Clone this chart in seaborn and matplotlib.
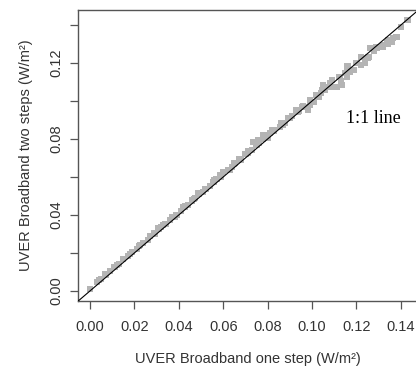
import numpy as np
import pandas as pd
import matplotlib
matplotlib.use('Agg')
import matplotlib.pyplot as plt
import seaborn as sns

# UVER broadband: one-step vs two-step estimates (W/m2)
one_step = [0.000, 0.003, 0.005, 0.007, 0.009, 0.011, 0.013, 0.015, 0.017, 0.019,
            0.021, 0.022, 0.024, 0.026, 0.027, 0.029, 0.031, 0.032, 0.034, 0.036,
            0.037, 0.039, 0.041, 0.042, 0.044, 0.046, 0.047, 0.049, 0.051, 0.052,
            0.054, 0.056, 0.057, 0.059, 0.060, 0.062, 0.064, 0.065, 0.067, 0.068,
            0.070, 0.071, 0.073, 0.075, 0.076, 0.078, 0.080, 0.082, 0.083, 0.086,
            0.087, 0.089, 0.091, 0.093, 0.094, 0.096, 0.098, 0.099, 0.101, 0.102,
            0.104, 0.105, 0.106, 0.108, 0.109, 0.111, 0.112, 0.113, 0.115, 0.116,
            0.117, 0.119, 0.120, 0.122, 0.122, 0.124, 0.125, 0.126, 0.128, 0.129,
            0.131, 0.132, 0.134, 0.136, 0.138, 0.140, 0.143,
            0.1366, 0.1344, 0.1321, 0.1291, 0.1254, 0.1239, 0.1186, 0.1156, 0.1126, 0.1134,
            0.1081, 0.1051, 0.1044, 0.1029, 0.0991, 0.0983, 0.0953, 0.0938, 0.0901, 0.0878,
            0.0856, 0.0826, 0.0811, 0.0781, 0.0758, 0.0736, 0.0713, 0.0653, 0.0631, 0.0586,
            0.0556, 0.0488, 0.0473, 0.0428, 0.0383, 0.0330, 0.0308, 0.0225, 0.004, 0.012,
            0.018]
two_steps = [0.0012, 0.0045, 0.0063, 0.0086, 0.0104, 0.0126, 0.0143, 0.0168, 0.0184, 0.0207,
             0.0222, 0.0236, 0.0251, 0.0268, 0.0291, 0.0302, 0.0329, 0.0336, 0.0354, 0.0372,
             0.0389, 0.0401, 0.0422, 0.0440, 0.0452, 0.0476, 0.0485, 0.0509, 0.0522, 0.0538,
             0.0551, 0.0583, 0.0590, 0.0601, 0.0627, 0.0638, 0.0652, 0.0671, 0.0695, 0.0689,
             0.0722, 0.0735, 0.0744, 0.0771, 0.0778, 0.0800, 0.0808, 0.0847, 0.0842, 0.0883,
             0.0876, 0.0909, 0.0922, 0.0953, 0.0948, 0.0975, 0.0970, 0.1006, 0.0996, 0.1031,
             0.1040, 0.1084, 0.1058, 0.1072, 0.1110, 0.1075, 0.1128, 0.1105, 0.1146, 0.1182,
             0.1152, 0.1163, 0.1198, 0.1233, 0.1190, 0.1211, 0.1225, 0.1277, 0.1262, 0.1283,
             0.1286, 0.1295, 0.1303, 0.1312, 0.1338, 0.1390, 0.1426,
             0.1330, 0.1318, 0.1286, 0.1277, 0.1233, 0.1198, 0.1163, 0.1128, 0.1128, 0.1084,
             0.1093, 0.1075, 0.1058, 0.1023, 0.0979, 0.0953, 0.0970, 0.0944, 0.0909, 0.0883,
             0.0865, 0.0847, 0.0830, 0.0821, 0.0795, 0.0786, 0.0725, 0.0672, 0.0637, 0.0611,
             0.0575, 0.0514, 0.0488, 0.0444, 0.0391, 0.0347, 0.0330, 0.0242, 0.0058, 0.0137,
             0.0196]

xticks = [0.00, 0.02, 0.04, 0.06, 0.08, 0.10, 0.12, 0.14]
yticks = [0.00, 0.02, 0.04, 0.06, 0.08, 0.10, 0.12, 0.14]
ytick_labels = ['0.00', '', '0.04', '', '0.08', '', '0.12', '']

df = pd.DataFrame({'one': one_step, 'two': two_steps})

sns.set_style('ticks')
plt.rcParams['font.family'] = ['Liberation Sans', 'DejaVu Sans']

fig = plt.figure(figsize=(4.16, 3.71), dpi=100)
ax = fig.add_axes([78 / 416, 70 / 371, 340 / 416, 291 / 371])

sns.scatterplot(data=df, x='one', y='two', marker='s', s=20, color='#b4b4b4',
                edgecolor='none', linewidth=0, ax=ax, zorder=2)
ax.axline((0, 0), slope=1, color='black', lw=0.8, zorder=3)

ax.set_xlim(-0.0054, 0.1477)
ax.set_ylim(-0.0053, 0.1479)
ax.set_xticks(xticks)
ax.set_xticklabels([f'{t:.2f}' for t in xticks])
ax.set_yticks(yticks)
ax.set_yticklabels(ytick_labels, rotation=90, va='center')

for sp in ax.spines.values():
    sp.set_color('#555555')
    sp.set_linewidth(1.0)
ax.tick_params(axis='both', length=5.5, width=0.9, color='#555555',
               labelsize=10.5, labelcolor='#333333')
ax.tick_params(axis='x', pad=8)
ax.tick_params(axis='y', pad=5)

ax.set_xlabel('UVER Broadband one step (W/m²)', fontsize=10.5, color='#333333', labelpad=13)
ax.set_ylabel('UVER Broadband two steps (W/m²)', fontsize=10.5, color='#333333', labelpad=12)

ax.text(0.1277, 0.091, '1:1 line', family='Liberation Serif', fontsize=13,
        ha='center', va='center', color='black')

fig.savefig('out.png', dpi=100)
